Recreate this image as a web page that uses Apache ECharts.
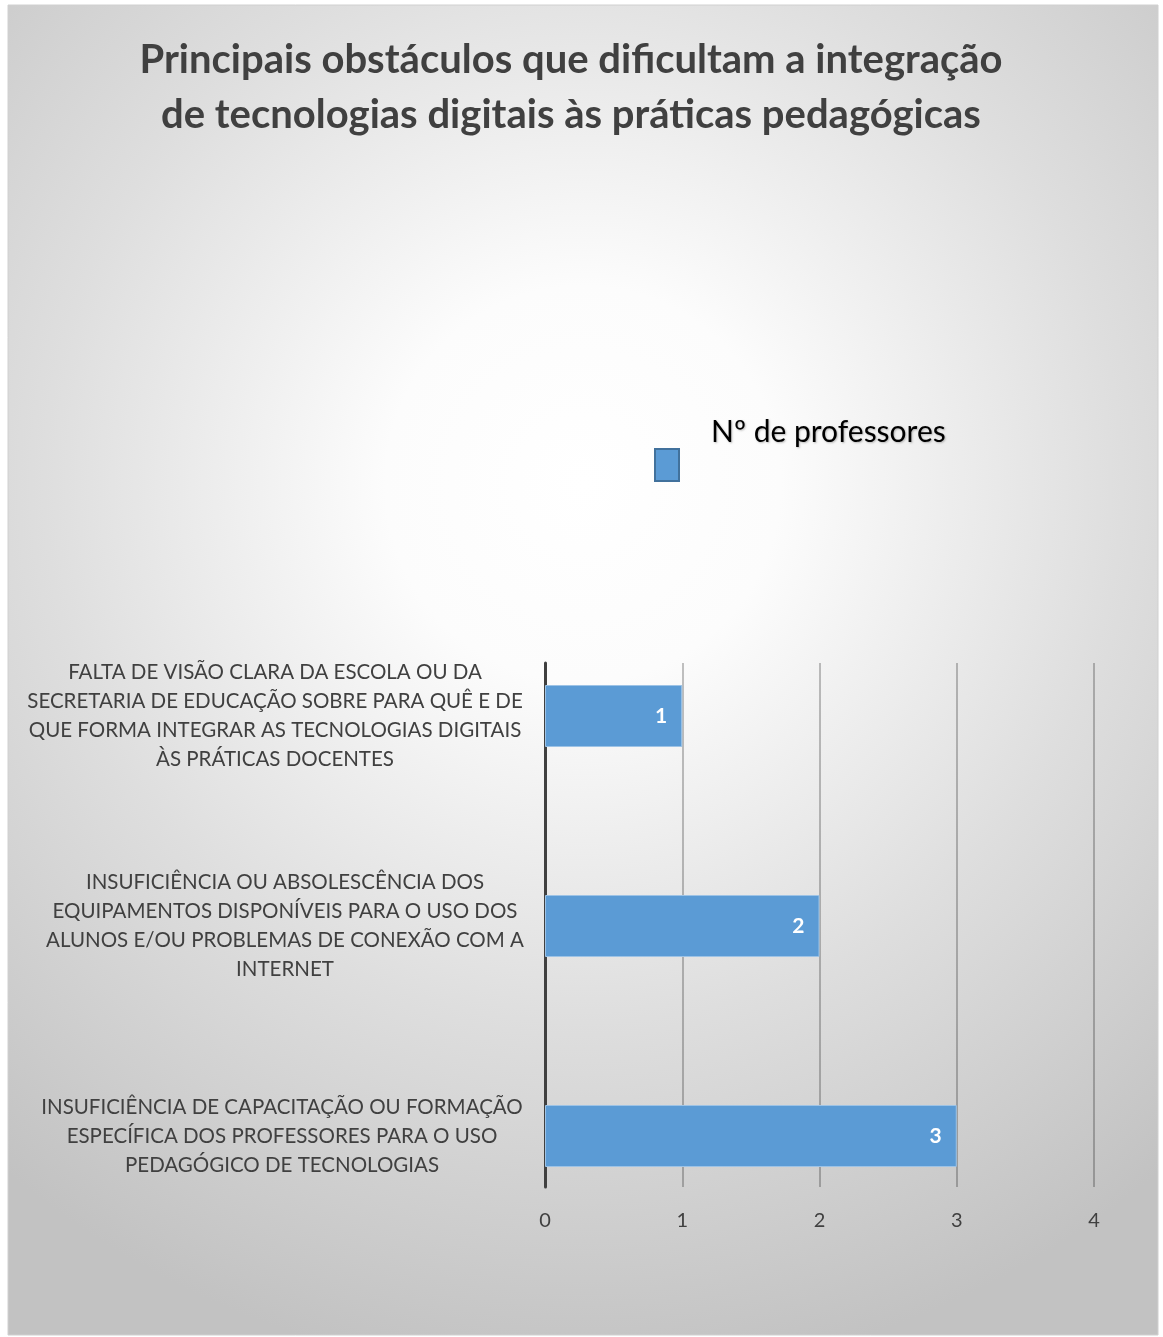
<!DOCTYPE html>
<html>
<head>
<meta charset="utf-8">
<script src="https://cdn.jsdelivr.net/npm/echarts@6/dist/echarts.min.js"></script>
<style>
  html, body { margin: 0; padding: 0; background: #fff; }
  #main { width: 1163px; height: 1337px; }
</style>
</head>
<body>
<div id="main"></div>
<script>
// categories, bottom to top
var categorias = [
  'INSUFICIÊNCIA DE CAPACITAÇÃO OU FORMAÇÃO\nESPECÍFICA DOS PROFESSORES PARA O USO\nPEDAGÓGICO DE TECNOLOGIAS',
  'INSUFICIÊNCIA OU ABSOLESCÊNCIA DOS\nEQUIPAMENTOS DISPONÍVEIS PARA O USO DOS\nALUNOS E/OU PROBLEMAS DE CONEXÃO COM A\nINTERNET',
  'FALTA DE VISÃO CLARA DA ESCOLA OU DA\nSECRETARIA DE EDUCAÇÃO SOBRE PARA QUÊ E DE\nQUE FORMA INTEGRAR AS TECNOLOGIAS DIGITAIS\nÀS PRÁTICAS DOCENTES'
]
var professores = [3, 2, 1]
var nomeSerie = 'Nº de professores'
var titulo = 'Principais obstáculos que dificultam a integração\nde tecnologias digitais às práticas pedagógicas'

var chart = echarts.init(document.getElementById('main'))
var fonte = 'Lato, "Open Sans", sans-serif'

// each wrapped label box sits a little differently in the original
var deslocLabel = [14, 20, 0]
var richLabel = {}
deslocLabel.forEach(function (d, i) {
  richLabel['s' + i] = {
    fontFamily: fonte,
    fontSize: 20.5,
    color: '#404040',
    lineHeight: 29,
    padding: [0, 0, 0, d]
  }
})

var option = {
  animation: false,
  graphic: [{
    type: 'rect',
    z: -10,
    shape: { x: 8, y: 5, width: 1150, height: 1330 },
    style: {
      fill: {
        type: 'radial', x: 0.5, y: 0.36, r: 0.78,
        colorStops: [
          { offset: 0, color: '#ffffff' },
          { offset: 0.22, color: '#fcfcfc' },
          { offset: 0.6, color: '#dedede' },
          { offset: 1, color: '#c2c2c2' }
        ]
      },
      stroke: '#d0d0d0',
      lineWidth: 1
    }
  }],
  title: {
    text: titulo,
    left: 566,
    textAlign: 'center',
    top: 28,
    textStyle: {
      fontFamily: fonte,
      fontSize: 40,
      fontWeight: 'bold',
      color: '#404040',
      lineHeight: 55
    }
  },
  legend: {
    left: 649,
    top: 412,
    itemWidth: 24,
    itemHeight: 32,
    icon: 'rect',
    formatter: function (name) { return '{a|' + name + '}\n{b| }' },
    textStyle: {
      padding: [0, 0, 0, 27],
      rich: {
        a: {
          fontFamily: fonte,
          fontSize: 30,
          color: '#000',
          lineHeight: 66,
          textShadowColor: 'rgba(0,0,0,0.25)',
          textShadowBlur: 2,
          textShadowOffsetX: 1,
          textShadowOffsetY: 1
        },
        b: { fontSize: 10, lineHeight: 66 }
      }
    },
    itemStyle: { borderColor: '#41719c', borderWidth: 2 }
  },
  grid: [
    // visible plot area (axis line, gridlines, tick labels)
    { left: 545, right: 69, top: 663, bottom: 150, outerBoundsMode: 'none' },
    // band layout for the bars and category labels
    { left: 545, right: 69, top: 611, bottom: 96, outerBoundsMode: 'none' }
  ],
  xAxis: [{
    gridIndex: 0,
    type: 'value',
    min: 0,
    max: 4,
    interval: 1,
    axisLine: { show: false },
    axisTick: { show: false },
    splitLine: { lineStyle: { color: 'rgba(0,0,0,0.32)', width: 1.5 } },
    axisLabel: {
      fontFamily: fonte,
      fontSize: 20,
      color: '#404040',
      margin: 24
    }
  }, {
    gridIndex: 1,
    type: 'value',
    min: 0,
    max: 4,
    interval: 1,
    show: false
  }],
  yAxis: [{
    gridIndex: 0,
    type: 'category',
    data: categorias,
    axisLine: { lineStyle: { color: '#404040', width: 3 } },
    axisTick: { show: false },
    axisLabel: { show: false }
  }, {
    gridIndex: 1,
    type: 'category',
    data: categorias,
    axisLine: { show: false },
    axisTick: { show: false },
    axisLabel: {
      fontFamily: fonte,
      fontSize: 20.5,
      color: '#404040',
      lineHeight: 29,
      align: 'center',
      margin: 270,
      formatter: function (value, index) {
        return value.split('\n').map(function (l) {
          return '{s' + index + '|' + l + '}'
        }).join('\n')
      },
      rich: richLabel
    }
  }],
  series: [{
    name: nomeSerie,
    type: 'bar',
    xAxisIndex: 1,
    yAxisIndex: 1,
    data: professores,
    barWidth: 62,
    z: 3,
    itemStyle: { color: '#5b9bd5', borderColor: '#9dc3e6', borderWidth: 1 },
    label: {
      show: true,
      position: 'insideRight',
      distance: 15,
      color: '#fff',
      fontFamily: fonte,
      fontSize: 21,
      fontWeight: 'bold'
    }
  }]
}
chart.setOption(option)
</script>
</body>
</html>
